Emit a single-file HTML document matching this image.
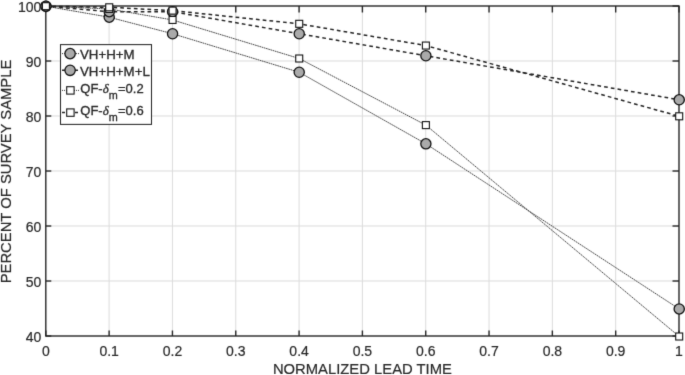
<!DOCTYPE html><html><head><meta charset="utf-8"><style>html,body{margin:0;padding:0;background:#fff;}svg{display:block;}text{font-family:"Liberation Sans",Arial,sans-serif;fill:#262626;stroke:#262626;stroke-width:0.18px;}</style></head><body>
<svg width="685" height="375" viewBox="0 0 685 375">
<defs><filter id="bl" x="0" y="0" width="685" height="375" filterUnits="userSpaceOnUse" color-interpolation-filters="sRGB"><feConvolveMatrix order="3" kernelMatrix="0.01134 0.08382 0.01134 0.08382 0.61935 0.08382 0.01134 0.08382 0.01134" divisor="1" edgeMode="duplicate"/></filter></defs>
<rect x="0" y="0" width="685" height="375" fill="#fff"/>
<g filter="url(#bl)">
<line x1="109.12" y1="6.00" x2="109.12" y2="336.00" stroke="#dbdbdb" stroke-width="1"/>
<line x1="172.44" y1="6.00" x2="172.44" y2="336.00" stroke="#dbdbdb" stroke-width="1"/>
<line x1="235.76" y1="6.00" x2="235.76" y2="336.00" stroke="#dbdbdb" stroke-width="1"/>
<line x1="299.08" y1="6.00" x2="299.08" y2="336.00" stroke="#dbdbdb" stroke-width="1"/>
<line x1="362.40" y1="6.00" x2="362.40" y2="336.00" stroke="#dbdbdb" stroke-width="1"/>
<line x1="425.72" y1="6.00" x2="425.72" y2="336.00" stroke="#dbdbdb" stroke-width="1"/>
<line x1="489.04" y1="6.00" x2="489.04" y2="336.00" stroke="#dbdbdb" stroke-width="1"/>
<line x1="552.36" y1="6.00" x2="552.36" y2="336.00" stroke="#dbdbdb" stroke-width="1"/>
<line x1="615.68" y1="6.00" x2="615.68" y2="336.00" stroke="#dbdbdb" stroke-width="1"/>
<line x1="45.80" y1="281.00" x2="679.00" y2="281.00" stroke="#dbdbdb" stroke-width="1"/>
<line x1="45.80" y1="226.00" x2="679.00" y2="226.00" stroke="#dbdbdb" stroke-width="1"/>
<line x1="45.80" y1="171.00" x2="679.00" y2="171.00" stroke="#dbdbdb" stroke-width="1"/>
<line x1="45.80" y1="116.00" x2="679.00" y2="116.00" stroke="#dbdbdb" stroke-width="1"/>
<line x1="45.80" y1="61.00" x2="679.00" y2="61.00" stroke="#dbdbdb" stroke-width="1"/>
<rect x="45.80" y="6.00" width="633.20" height="330.00" fill="none" stroke="#262626" stroke-width="1.4"/>
<line x1="45.80" y1="336.00" x2="45.80" y2="330.50" stroke="#262626" stroke-width="1.4"/>
<line x1="45.80" y1="6.00" x2="45.80" y2="12.50" stroke="#262626" stroke-width="1.4"/>
<line x1="109.12" y1="336.00" x2="109.12" y2="330.50" stroke="#262626" stroke-width="1.4"/>
<line x1="109.12" y1="6.00" x2="109.12" y2="12.50" stroke="#262626" stroke-width="1.4"/>
<line x1="172.44" y1="336.00" x2="172.44" y2="330.50" stroke="#262626" stroke-width="1.4"/>
<line x1="172.44" y1="6.00" x2="172.44" y2="12.50" stroke="#262626" stroke-width="1.4"/>
<line x1="235.76" y1="336.00" x2="235.76" y2="330.50" stroke="#262626" stroke-width="1.4"/>
<line x1="235.76" y1="6.00" x2="235.76" y2="12.50" stroke="#262626" stroke-width="1.4"/>
<line x1="299.08" y1="336.00" x2="299.08" y2="330.50" stroke="#262626" stroke-width="1.4"/>
<line x1="299.08" y1="6.00" x2="299.08" y2="12.50" stroke="#262626" stroke-width="1.4"/>
<line x1="362.40" y1="336.00" x2="362.40" y2="330.50" stroke="#262626" stroke-width="1.4"/>
<line x1="362.40" y1="6.00" x2="362.40" y2="12.50" stroke="#262626" stroke-width="1.4"/>
<line x1="425.72" y1="336.00" x2="425.72" y2="330.50" stroke="#262626" stroke-width="1.4"/>
<line x1="425.72" y1="6.00" x2="425.72" y2="12.50" stroke="#262626" stroke-width="1.4"/>
<line x1="489.04" y1="336.00" x2="489.04" y2="330.50" stroke="#262626" stroke-width="1.4"/>
<line x1="489.04" y1="6.00" x2="489.04" y2="12.50" stroke="#262626" stroke-width="1.4"/>
<line x1="552.36" y1="336.00" x2="552.36" y2="330.50" stroke="#262626" stroke-width="1.4"/>
<line x1="552.36" y1="6.00" x2="552.36" y2="12.50" stroke="#262626" stroke-width="1.4"/>
<line x1="615.68" y1="336.00" x2="615.68" y2="330.50" stroke="#262626" stroke-width="1.4"/>
<line x1="615.68" y1="6.00" x2="615.68" y2="12.50" stroke="#262626" stroke-width="1.4"/>
<line x1="679.00" y1="336.00" x2="679.00" y2="330.50" stroke="#262626" stroke-width="1.4"/>
<line x1="679.00" y1="6.00" x2="679.00" y2="12.50" stroke="#262626" stroke-width="1.4"/>
<line x1="45.80" y1="336.00" x2="51.30" y2="336.00" stroke="#262626" stroke-width="1.4"/>
<line x1="679.00" y1="336.00" x2="672.50" y2="336.00" stroke="#262626" stroke-width="1.4"/>
<line x1="45.80" y1="281.00" x2="51.30" y2="281.00" stroke="#262626" stroke-width="1.4"/>
<line x1="679.00" y1="281.00" x2="672.50" y2="281.00" stroke="#262626" stroke-width="1.4"/>
<line x1="45.80" y1="226.00" x2="51.30" y2="226.00" stroke="#262626" stroke-width="1.4"/>
<line x1="679.00" y1="226.00" x2="672.50" y2="226.00" stroke="#262626" stroke-width="1.4"/>
<line x1="45.80" y1="171.00" x2="51.30" y2="171.00" stroke="#262626" stroke-width="1.4"/>
<line x1="679.00" y1="171.00" x2="672.50" y2="171.00" stroke="#262626" stroke-width="1.4"/>
<line x1="45.80" y1="116.00" x2="51.30" y2="116.00" stroke="#262626" stroke-width="1.4"/>
<line x1="679.00" y1="116.00" x2="672.50" y2="116.00" stroke="#262626" stroke-width="1.4"/>
<line x1="45.80" y1="61.00" x2="51.30" y2="61.00" stroke="#262626" stroke-width="1.4"/>
<line x1="679.00" y1="61.00" x2="672.50" y2="61.00" stroke="#262626" stroke-width="1.4"/>
<line x1="45.80" y1="6.00" x2="51.30" y2="6.00" stroke="#262626" stroke-width="1.4"/>
<line x1="679.00" y1="6.00" x2="672.50" y2="6.00" stroke="#262626" stroke-width="1.4"/>
<polyline points="45.90,6.20 109.23,17.21 172.56,33.73 299.22,72.26 425.88,143.82 679.20,308.97" fill="none" stroke="#444" stroke-width="1" stroke-dasharray="1.7 0.6"/>
<polyline points="45.90,6.20 109.23,11.71 172.56,11.71 299.22,33.73 425.88,55.75 679.20,99.78" fill="none" stroke="#222" stroke-width="1.5" stroke-dasharray="3.7 3.11" stroke-dashoffset="0.30"/>
<polyline points="45.90,6.20 109.23,8.95 172.56,19.96 299.22,58.50 425.88,125.11 679.20,336.50" fill="none" stroke="#444" stroke-width="1" stroke-dasharray="1.7 0.6"/>
<polyline points="45.90,6.20 109.23,7.30 172.56,10.60 299.22,23.82 425.88,45.56 679.20,116.30" fill="none" stroke="#222" stroke-width="1.5" stroke-dasharray="3.7 3.11" stroke-dashoffset="0.55"/>
<circle cx="45.90" cy="6.20" r="5.1" fill="#aaaaaa" stroke="#111" stroke-width="1.3"/>
<circle cx="109.23" cy="17.21" r="5.1" fill="#aaaaaa" stroke="#111" stroke-width="1.3"/>
<circle cx="172.56" cy="33.73" r="5.1" fill="#aaaaaa" stroke="#111" stroke-width="1.3"/>
<circle cx="299.22" cy="72.26" r="5.1" fill="#aaaaaa" stroke="#111" stroke-width="1.3"/>
<circle cx="425.88" cy="143.82" r="5.1" fill="#aaaaaa" stroke="#111" stroke-width="1.3"/>
<circle cx="679.20" cy="308.97" r="5.1" fill="#aaaaaa" stroke="#111" stroke-width="1.3"/>
<circle cx="45.90" cy="6.20" r="5.1" fill="#aaaaaa" stroke="#111" stroke-width="1.3"/>
<circle cx="109.23" cy="11.71" r="5.1" fill="#aaaaaa" stroke="#111" stroke-width="1.3"/>
<circle cx="172.56" cy="11.71" r="5.1" fill="#aaaaaa" stroke="#111" stroke-width="1.3"/>
<circle cx="299.22" cy="33.73" r="5.1" fill="#aaaaaa" stroke="#111" stroke-width="1.3"/>
<circle cx="425.88" cy="55.75" r="5.1" fill="#aaaaaa" stroke="#111" stroke-width="1.3"/>
<circle cx="679.20" cy="99.78" r="5.1" fill="#aaaaaa" stroke="#111" stroke-width="1.3"/>
<rect x="42.40" y="2.70" width="7.0" height="7.0" fill="#fff" stroke="#111" stroke-width="1.1"/>
<rect x="105.73" y="5.45" width="7.0" height="7.0" fill="#fff" stroke="#111" stroke-width="1.1"/>
<rect x="169.06" y="16.46" width="7.0" height="7.0" fill="#fff" stroke="#111" stroke-width="1.1"/>
<rect x="295.72" y="55.00" width="7.0" height="7.0" fill="#fff" stroke="#111" stroke-width="1.1"/>
<rect x="422.38" y="121.61" width="7.0" height="7.0" fill="#fff" stroke="#111" stroke-width="1.1"/>
<rect x="675.70" y="333.00" width="7.0" height="7.0" fill="#fff" stroke="#111" stroke-width="1.1"/>
<rect x="42.40" y="2.70" width="7.0" height="7.0" fill="#fff" stroke="#111" stroke-width="1.1"/>
<rect x="105.73" y="3.80" width="7.0" height="7.0" fill="#fff" stroke="#111" stroke-width="1.1"/>
<rect x="169.06" y="7.10" width="7.0" height="7.0" fill="#fff" stroke="#111" stroke-width="1.1"/>
<rect x="295.72" y="20.32" width="7.0" height="7.0" fill="#fff" stroke="#111" stroke-width="1.1"/>
<rect x="422.38" y="42.06" width="7.0" height="7.0" fill="#fff" stroke="#111" stroke-width="1.1"/>
<rect x="675.70" y="112.80" width="7.0" height="7.0" fill="#fff" stroke="#111" stroke-width="1.1"/>
<text transform="translate(45.80,355.6) scale(1,1)" font-size="14" text-anchor="middle">0</text>
<text transform="translate(109.12,355.6) scale(1,1)" font-size="14" text-anchor="middle">0.1</text>
<text transform="translate(172.44,355.6) scale(1,1)" font-size="14" text-anchor="middle">0.2</text>
<text transform="translate(235.76,355.6) scale(1,1)" font-size="14" text-anchor="middle">0.3</text>
<text transform="translate(299.08,355.6) scale(1,1)" font-size="14" text-anchor="middle">0.4</text>
<text transform="translate(362.40,355.6) scale(1,1)" font-size="14" text-anchor="middle">0.5</text>
<text transform="translate(425.72,355.6) scale(1,1)" font-size="14" text-anchor="middle">0.6</text>
<text transform="translate(489.04,355.6) scale(1,1)" font-size="14" text-anchor="middle">0.7</text>
<text transform="translate(552.36,355.6) scale(1,1)" font-size="14" text-anchor="middle">0.8</text>
<text transform="translate(615.68,355.6) scale(1,1)" font-size="14" text-anchor="middle">0.9</text>
<text transform="translate(679.00,355.6) scale(1,1)" font-size="14" text-anchor="middle">1</text>
<text transform="translate(41.3,342.20) scale(1,1)" font-size="14" text-anchor="end">40</text>
<text transform="translate(41.3,287.20) scale(1,1)" font-size="14" text-anchor="end">50</text>
<text transform="translate(41.3,232.20) scale(1,1)" font-size="14" text-anchor="end">60</text>
<text transform="translate(41.3,177.20) scale(1,1)" font-size="14" text-anchor="end">70</text>
<text transform="translate(41.3,122.20) scale(1,1)" font-size="14" text-anchor="end">80</text>
<text transform="translate(41.3,67.20) scale(1,1)" font-size="14" text-anchor="end">90</text>
<text transform="translate(41.3,12.20) scale(1,1)" font-size="14" text-anchor="end">100</text>
<text x="362.4" y="373.8" font-size="14.8" text-anchor="middle">NORMALIZED LEAD TIME</text>
<text transform="translate(10.6,171.5) rotate(-90)" x="0" y="0" font-size="14.8" text-anchor="middle">PERCENT OF SURVEY SAMPLE</text>
<rect x="60.5" y="44.6" width="91" height="79.8" fill="#fff" stroke="#262626" stroke-width="1.05"/>
<line x1="62" y1="53.60" x2="79" y2="53.60" stroke="#333" stroke-width="1" stroke-dasharray="1 1"/>
<circle cx="70.1" cy="53.60" r="5.2" fill="#aaaaaa" stroke="#111" stroke-width="1.3"/>
<text x="80.0" y="58.70" font-size="13.3" style="stroke-width:0.3px">VH+H+M</text>
<line x1="62" y1="70.30" x2="79" y2="70.30" stroke="#222" stroke-width="1.5" stroke-dasharray="3 10 3"/>
<circle cx="70.1" cy="70.30" r="5.2" fill="#aaaaaa" stroke="#111" stroke-width="1.3"/>
<text x="80.0" y="75.80" font-size="13.3" style="stroke-width:0.3px">VH+H+M+L</text>
<line x1="62" y1="90.40" x2="79" y2="90.40" stroke="#333" stroke-width="1" stroke-dasharray="1 1"/>
<rect x="66.70" y="86.70" width="7.4" height="7.4" fill="#fff" stroke="#111" stroke-width="1.1"/>
<text x="80.3" y="92.60" font-size="13" style="stroke-width:0.3px">QF-<tspan font-family="Liberation Serif" font-style="italic">δ</tspan><tspan font-size="10.8" dy="6">m</tspan><tspan dy="-6" dx="0.3">=0.2</tspan></text>
<line x1="62" y1="112.60" x2="79" y2="112.60" stroke="#222" stroke-width="1.5" stroke-dasharray="3 10 3"/>
<rect x="66.70" y="108.90" width="7.4" height="7.4" fill="#fff" stroke="#111" stroke-width="1.1"/>
<text x="80.3" y="115.00" font-size="13" style="stroke-width:0.3px">QF-<tspan font-family="Liberation Serif" font-style="italic">δ</tspan><tspan font-size="10.8" dy="6">m</tspan><tspan dy="-6" dx="0.3">=0.6</tspan></text>
</g></svg></body></html>
